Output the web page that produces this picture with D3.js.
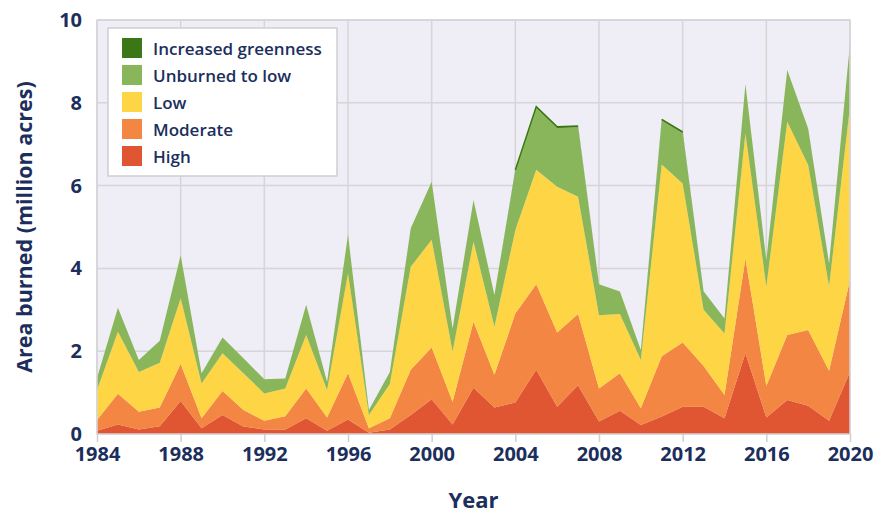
<!DOCTYPE html>
<html>
<head>
<meta charset="utf-8">
<script src="https://cdn.jsdelivr.net/npm/d3@7"></script>
<style>
  body { margin: 0; background: #fff; }
  .tick text { font-family: "Open Sans", sans-serif; font-weight: bold; fill: #1c2f5c; }
</style>
</head>
<body>
<div id="chart"></div>
<script>
// burned area by severity, million acres
var years = d3.range(1984, 2021);
var high      = [0.08,0.23,0.11,0.19,0.80,0.14,0.46,0.18,0.11,0.11,0.38,0.08,0.35,0.03,0.11,0.46,0.84,0.23,1.12,0.64,0.76,1.55,0.66,1.18,0.30,0.56,0.22,0.42,0.66,0.66,0.38,1.95,0.40,0.82,0.68,0.32,1.50];
var moderate  = [0.26,0.74,0.43,0.45,0.89,0.24,0.58,0.40,0.21,0.32,0.72,0.32,1.12,0.11,0.27,1.09,1.25,0.55,1.59,0.79,2.15,2.07,1.79,1.72,0.80,0.91,0.40,1.46,1.55,0.98,0.56,2.29,0.76,1.57,1.83,1.21,2.22];
var low       = [0.72,1.50,0.96,1.08,1.59,0.84,0.91,0.89,0.66,0.67,1.29,0.66,2.41,0.32,0.83,2.49,2.60,1.21,1.94,1.16,2.02,2.76,3.52,2.83,1.77,1.43,1.17,4.63,3.84,1.36,1.49,3.02,2.40,5.15,3.99,2.04,4.19];
var unburned  = [0.29,0.58,0.29,0.53,1.04,0.25,0.38,0.36,0.34,0.24,0.73,0.20,0.93,0.12,0.29,0.93,1.40,0.56,1.00,0.77,1.42,1.50,1.42,1.68,0.75,0.54,0.24,1.06,1.22,0.45,0.36,1.19,0.64,1.25,0.88,0.55,1.52];
var greenness = [0,0,0,0,0,0,0,0,0,0,0,0,0,0,0,0,0,0,0,0,0.03,0.03,0.03,0.03,0,0,0,0.03,0.03,0,0,0,0,0,0,0,0];

var seriesNames = ["High", "Moderate", "Low", "Unburned to low", "Increased greenness"];
var seriesValues = [high, moderate, low, unburned, greenness];
var colors = ["#e05532", "#f38642", "#fdd545", "#8ab65b", "#3b7714"];
var xTicks = d3.range(1984, 2021, 4);
var yTicks = [0, 2, 4, 6, 8, 10];

var width = 875, height = 514;
var margin = {left: 97, right: 25, top: 20, bottom: 80};

var svg = d3.select("#chart").append("svg")
    .attr("width", width)
    .attr("height", height);

var x = d3.scaleLinear().domain([1984, 2020]).range([margin.left, width - margin.right]);
var y = d3.scaleLinear().domain([0, 10]).range([height - margin.bottom, margin.top]);

var rows = years.map(function(yr, i) {
    var r = {year: yr};
    seriesNames.forEach(function(n, j) { r[n] = seriesValues[j][i]; });
    return r;
});
var stacked = d3.stack().keys(seriesNames)(rows);

// plot background
svg.append("rect")
    .attr("x", x(1984)).attr("y", y(10))
    .attr("width", x(2020) - x(1984)).attr("height", y(0) - y(10))
    .attr("fill", "#efedf5");

// grid
svg.append("g").selectAll("line").data(yTicks).enter().append("line")
    .attr("x1", x(1984)).attr("x2", x(2020))
    .attr("y1", function(d) { return y(d); }).attr("y2", function(d) { return y(d); })
    .attr("stroke", "#d6d5d8").attr("stroke-width", 1.5);
svg.append("g").selectAll("line").data(xTicks).enter().append("line")
    .attr("x1", function(d) { return x(d); }).attr("x2", function(d) { return x(d); })
    .attr("y1", y(10)).attr("y2", y(0))
    .attr("stroke", "#d6d5d8").attr("stroke-width", 1.5);

var area = d3.area()
    .x(function(d) { return x(d.data.year); })
    .y0(function(d) { return y(d[0]); })
    .y1(function(d) { return y(d[1]); });

svg.append("g").selectAll("path").data(stacked).enter().append("path")
    .attr("d", area)
    .attr("fill", function(d, i) { return colors[i]; });

// thin line for the greenness layer so it stays visible
var topLine = d3.line()
    .defined(function(d) { return d.data["Increased greenness"] > 0; })
    .x(function(d) { return x(d.data.year); })
    .y(function(d) { return y(d[1]); });
svg.append("path").datum(stacked[4])
    .attr("d", topLine)
    .attr("fill", "none").attr("stroke", colors[4]).attr("stroke-width", 1.5);

// plot border
svg.append("rect")
    .attr("x", x(1984)).attr("y", y(10))
    .attr("width", x(2020) - x(1984)).attr("height", y(0) - y(10))
    .attr("fill", "none").attr("stroke", "#d6d5d8").attr("stroke-width", 1.5);

// axes
var xAxis = svg.append("g")
    .attr("transform", "translate(0," + y(0) + ")")
    .call(d3.axisBottom(x).tickValues(xTicks).tickFormat(d3.format("d")).tickSize(8).tickPadding(5));
xAxis.select(".domain").remove();
xAxis.selectAll("line").attr("stroke", "#d0d0d0").attr("stroke-width", 1.5);
xAxis.selectAll("text").attr("font-size", 20);

var yAxis = svg.append("g")
    .attr("transform", "translate(" + x(1984) + ",0)")
    .call(d3.axisLeft(y).tickValues(yTicks).tickSize(0).tickPadding(15));
yAxis.select(".domain").remove();
yAxis.selectAll("text").attr("font-size", 20);

// axis titles
svg.append("text")
    .attr("x", (x(1984) + x(2020)) / 2).attr("y", 508)
    .attr("text-anchor", "middle")
    .attr("font-family", "Open Sans, sans-serif")
    .attr("font-weight", "bold").attr("font-size", 22).attr("fill", "#1c2f5c")
    .text("Year");

svg.append("text")
    .attr("transform", "translate(32," + ((y(0) + y(10)) / 2) + ") rotate(-90)")
    .attr("text-anchor", "middle")
    .attr("font-family", "Open Sans, sans-serif")
    .attr("font-weight", "bold").attr("font-size", 21.5).attr("fill", "#1c2f5c")
    .text("Area burned (million acres)");

// legend
var legend = svg.append("g").attr("transform", "translate(108,28)");
legend.append("rect")
    .attr("width", 229).attr("height", 148)
    .attr("fill", "#fff").attr("stroke", "#cfcfcf").attr("stroke-width", 1.5);
var item = legend.selectAll("g.item").data(seriesNames.slice().reverse()).enter().append("g")
    .attr("class", "item")
    .attr("transform", function(d, i) { return "translate(14," + (10 + i * 27) + ")"; });
item.append("rect")
    .attr("width", 20).attr("height", 20)
    .attr("fill", function(d) { return colors[seriesNames.indexOf(d)]; });
item.append("text")
    .attr("x", 31).attr("y", 16.5)
    .attr("font-family", "Open Sans, sans-serif")
    .attr("font-weight", 600).attr("font-size", 17).attr("fill", "#1c2f5c")
    .text(function(d) { return d; });
</script>
</body>
</html>
